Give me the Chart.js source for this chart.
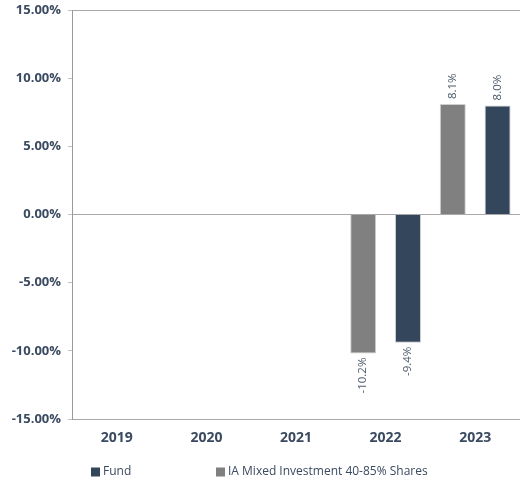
<!DOCTYPE html>
<html lang="en">
<head>
    <meta charset="UTF-8">
    <title>Discrete Performance</title>
    <style>
        html, body { margin: 0; padding: 0; background: #fff; }
        .wrap { width: 520px; height: 481px; position: relative; }
    </style>
</head>
<body>
    <div class="wrap"><canvas id="perfChart"></canvas></div>
    <script src="https://cdn.jsdelivr.net/npm/chart.js"></script>
    <script>
        // chart data
        const years = ['2019', '2020', '2021', '2022', '2023'];
        const fundValues = [null, null, null, -9.4, 8.0];
        const sectorValues = [null, null, null, -10.2, 8.1];
        const yTicks = [-15, -10, -5, 0, 5, 10, 15];
        const legendOrder = ['Fund', 'IA Mixed Investment 40-85% Shares'];

        const textColor = '#3a4a60';
        const fontFamily = '"Open Sans", "Noto Sans", sans-serif';

        // rotated value labels above / below each bar
        const barLabels = {
            id: 'barLabels',
            afterDatasetsDraw(chart) {
                const ctx = chart.ctx;
                ctx.save();
                ctx.font = '11.5px ' + fontFamily;
                ctx.fillStyle = '#4d5b6b';
                chart.data.datasets.forEach((ds, i) => {
                    chart.getDatasetMeta(i).data.forEach((bar, j) => {
                        const v = ds.data[j];
                        if (v === null || v === undefined) return;
                        ctx.save();
                        ctx.translate(bar.x, bar.y);
                        ctx.rotate(-Math.PI / 2);
                        ctx.textBaseline = 'middle';
                        if (v >= 0) {
                            ctx.textAlign = 'left';
                            ctx.fillText(v.toFixed(1) + '%', 5, 0);
                        } else {
                            ctx.textAlign = 'right';
                            ctx.fillText(v.toFixed(1) + '%', -4, 0);
                        }
                        ctx.restore();
                    });
                });
                ctx.restore();
            }
        };

        // legend with wide item spacing, Fund listed first
        const spacedLegend = {
            id: 'spacedLegend',
            afterDraw(chart) {
                const ctx = chart.ctx;
                const xs = [91, 216];
                const y = 472;
                ctx.save();
                ctx.font = '12px ' + fontFamily;
                ctx.textBaseline = 'middle';
                ctx.textAlign = 'left';
                legendOrder.forEach((name, k) => {
                    const ds = chart.data.datasets.find(d => d.label === name);
                    ctx.fillStyle = ds.backgroundColor;
                    ctx.fillRect(xs[k], y - 4.5, 9, 9);
                    ctx.fillStyle = textColor;
                    ctx.fillText(name, xs[k] + 12, y);
                });
                ctx.restore();
            }
        };

        const ctx = document.getElementById('perfChart').getContext('2d');
        new Chart(ctx, {
            type: 'bar',
            data: {
                labels: years,
                datasets: [{
                    label: 'IA Mixed Investment 40-85% Shares',
                    data: sectorValues,
                    backgroundColor: '#808080',
                    borderColor: '#d0d0d0',
                    borderWidth: 1,
                    categoryPercentage: 1.0,
                    barPercentage: 0.58
                }, {
                    label: 'Fund',
                    data: fundValues,
                    backgroundColor: '#34465c',
                    borderColor: '#c8ccd2',
                    borderWidth: 1,
                    categoryPercentage: 1.0,
                    barPercentage: 0.58
                }]
            },
            options: {
                responsive: true,
                maintainAspectRatio: false,
                animation: false,
                layout: { padding: { top: 10, right: 0, left: 0, bottom: 32 } },
                plugins: {
                    legend: { display: false },
                    tooltip: { enabled: false }
                },
                scales: {
                    x: {
                        grid: { display: false },
                        border: { display: false },
                        ticks: {
                            color: textColor,
                            padding: 3,
                            font: { family: fontFamily, size: 14, weight: 'bold' }
                        },
                        afterFit(scale) {
                            scale.height = 30;
                            scale.paddingLeft = 0;
                            scale.paddingRight = 0;
                        }
                    },
                    y: {
                        min: yTicks[0],
                        max: yTicks[yTicks.length - 1],
                        afterBuildTicks(scale) {
                            scale.ticks = yTicks.map(v => ({ value: v }));
                        },
                        afterFit(scale) {
                            scale.width = 72;
                            scale.paddingTop = 0;
                            scale.paddingBottom = 0;
                        },
                        border: { display: true, color: '#999' },
                        grid: {
                            color: c => (c.tick && [0, 15, -15].includes(c.tick.value)) ? '#a8a8a8' : 'rgba(0,0,0,0)',
                            tickColor: '#c0c0c0',
                            tickLength: 4,
                            drawTicks: true
                        },
                        ticks: {
                            color: textColor,
                            padding: 7,
                            font: { family: fontFamily, size: 13, weight: 'bold' },
                            callback: v => v.toFixed(2) + '%'
                        }
                    }
                }
            },
            plugins: [barLabels, spacedLegend]
        });
    </script>
</body>
</html>
